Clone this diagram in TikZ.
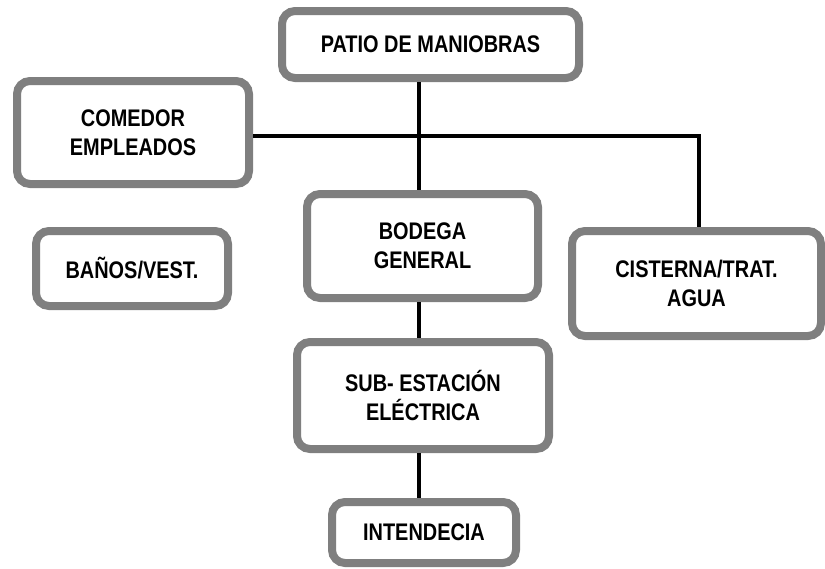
\documentclass[tikz,border=0pt]{standalone}
\usepackage{fontspec}
\newfontfamily\boxfont{Liberation Sans}[FakeStretch=0.83]
\usetikzlibrary{shadows}
\definecolor{boxgray}{HTML}{7F7F7F}
\tikzset{
  unitbox/.style={draw=boxgray, line width=8pt, fill=white, rounded corners=13pt,
    align=center, inner sep=0pt,
    font=\boxfont\bfseries\fontsize{24}{29}\selectfont,
    drop shadow={shadow xshift=3pt, shadow yshift=-3pt, opacity=0.25, fill=black}},
  conn/.style={draw=black, line width=4pt}
}
\begin{document}
\begin{tikzpicture}[x=1pt,y=-1pt]
\useasboundingbox (0,0) rectangle (825,568);
\node[unitbox, minimum width=297pt, minimum height=67pt] (patio) at (430.5,44.5) {PATIO DE MANIOBRAS};
\node[unitbox, minimum width=232pt, minimum height=103pt] (comedor) at (133,132.5) {COMEDOR\\EMPLEADOS};
\node[unitbox, minimum width=192pt, minimum height=75pt] (banos) at (132,268.5) {BAÑOS/VEST.};
\node[unitbox, minimum width=231pt, minimum height=104pt] (bodega) at (422.5,246) {BODEGA\\GENERAL};
\node[unitbox, minimum width=249pt, minimum height=105pt] (cisterna) at (696.5,283.5) {CISTERNA/TRAT.\\AGUA};
\node[unitbox, minimum width=252pt, minimum height=107pt] (sub) at (423,395.5) {SUB- ESTACIÓN\\ELÉCTRICA};
\node[unitbox, minimum width=184pt, minimum height=61pt] (intend) at (424,532.5) {INTENDECIA};
\coordinate (vx) at (418.5,0);
\coordinate (hc) at (698.5,135.5);
\draw[conn] (patio.south -| vx) -- (bodega.north -| vx);
\draw[conn] (bodega.south -| vx) -- (sub.north -| vx);
\draw[conn] (sub.south -| vx) -- (intend.north -| vx);
\draw[conn] (comedor.east |- hc) -- (hc) -- (cisterna.north -| hc);
\end{tikzpicture}
\end{document}
